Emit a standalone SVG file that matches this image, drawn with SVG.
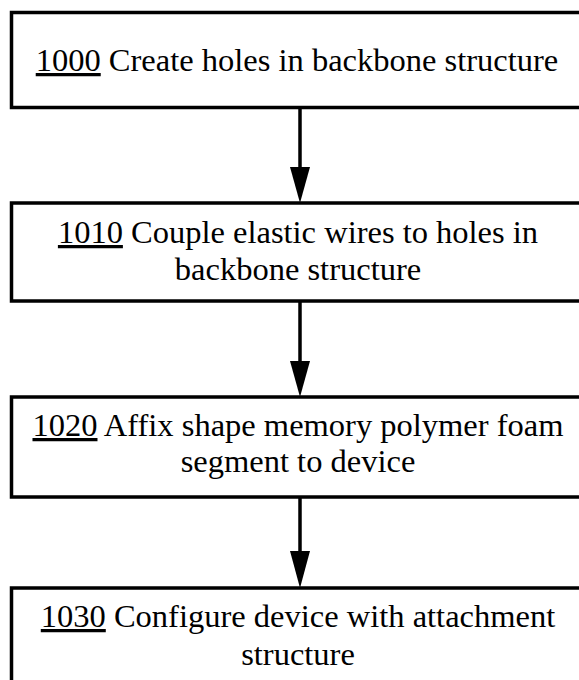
<svg xmlns="http://www.w3.org/2000/svg" width="579" height="680" viewBox="0 0 579 680">
<style>
.box{fill:#fff;stroke:#000;stroke-width:3.5}
.t{font-family:"Liberation Serif","Times New Roman",serif;font-size:32.5px;fill:#000;text-anchor:middle}
.u{text-decoration:underline}
.c{stroke:#000;stroke-width:3.5;fill:none}
</style>
<rect width="579" height="680" fill="#fff"/>
<g id="connectors">
<line class="c" x1="300" y1="107" x2="300" y2="168"/>
<polygon points="290,167 310,167 300,203" fill="#000"/>
<line class="c" x1="300" y1="301" x2="300" y2="362"/>
<polygon points="290,361 310,361 300,397" fill="#000"/>
<line class="c" x1="300" y1="497" x2="300" y2="552"/>
<polygon points="290,551 310,551 300,588" fill="#000"/>
</g>
<g id="n1000">
<rect class="box" x="11.5" y="12.5" width="580" height="95"/>
<text class="t" x="297" y="71"><tspan class="u">1000</tspan> Create holes in backbone structure</text>
</g>
<g id="n1010">
<rect class="box" x="11.5" y="203" width="580" height="98"/>
<text class="t" x="298" y="243"><tspan class="u">1010</tspan> Couple elastic wires to holes in</text>
<text class="t" x="298" y="280">backbone structure</text>
</g>
<g id="n1020">
<rect class="box" x="11.5" y="397" width="580" height="100"/>
<text class="t" x="298" y="436"><tspan class="u">1020</tspan> Affix shape memory polymer foam</text>
<text class="t" x="298" y="472">segment to device</text>
</g>
<g id="n1030">
<rect class="box" x="11.5" y="588" width="580" height="100"/>
<text class="t" x="298" y="627"><tspan class="u">1030</tspan> Configure device with attachment</text>
<text class="t" x="298" y="665">structure</text>
</g>
</svg>
